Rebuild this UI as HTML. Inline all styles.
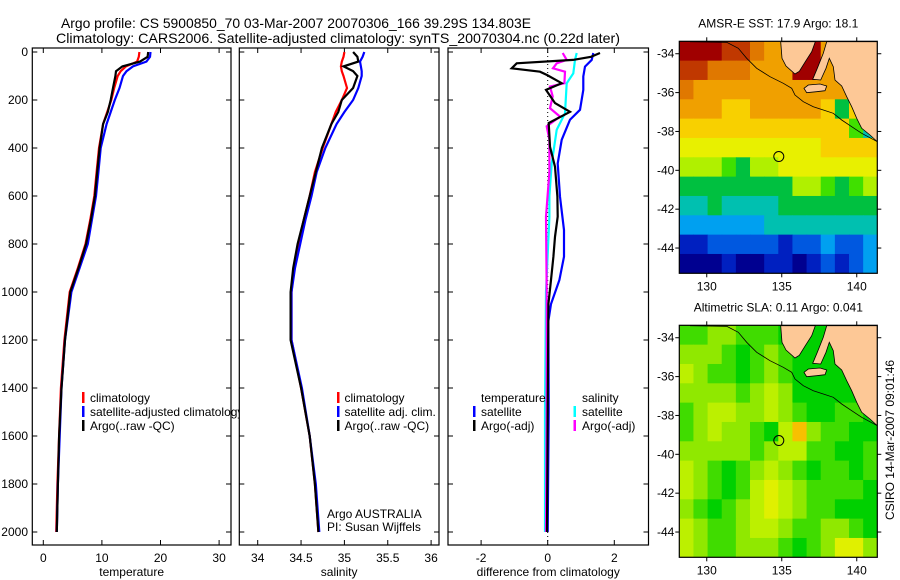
<!DOCTYPE html>
<html><head><meta charset="utf-8">
<style>
html,body{margin:0;padding:0;background:#fff;}
svg{display:block;font-family:"Liberation Sans",sans-serif;}
</style></head>
<body>
<svg id="chart" width="900" height="580" viewBox="0 0 900 580" xmlns="http://www.w3.org/2000/svg">
<text x="61" y="28" font-size="14" textLength="470" lengthAdjust="spacingAndGlyphs">Argo profile: CS 5900850_70 03-Mar-2007 20070306_166 39.29S 134.803E</text>
<text x="56" y="43" font-size="14" textLength="564" lengthAdjust="spacingAndGlyphs">Climatology: CARS2006. Satellite-adjusted climatology: synTS_20070304.nc (0.22d later)</text>
<g id="root"></g>
</svg>
<script>
// ---- profile data ----
const depths=[0,20,40,60,80,100,150,200,250,300,400,500,600,700,800,900,1000,1200,1400,1600,1800,2000];
const tempClim=[16.4,16.3,16.0,14.1,13.2,12.7,12.1,11.6,10.9,10.2,9.5,9.1,8.7,8.0,7.2,5.9,4.5,3.6,3.0,2.7,2.4,2.2];
const tempSat=[18.3,18.2,17.6,15.3,14.2,13.6,13.0,12.2,11.5,10.8,9.8,9.4,9.0,8.3,7.6,6.2,4.8,3.7,3.1,2.8,2.5,2.3];
const tempArgo=[17.9,17.8,16.5,13.5,12.4,12.3,11.9,11.5,11.0,10.2,9.6,9.2,8.8,8.1,7.3,6.0,4.6,3.7,3.1,2.7,2.5,2.3];
const salClim=[35.0,34.99,34.97,34.96,34.97,34.99,35.03,34.97,34.9,34.85,34.75,34.66,34.6,34.53,34.47,34.42,34.39,34.39,34.5,34.6,34.66,34.7];
const salSat=[35.23,35.21,35.18,35.19,35.2,35.2,35.16,35.10,35.0,34.91,34.78,34.68,34.62,34.55,34.49,34.43,34.39,34.39,34.51,34.6,34.67,34.71];
const salArgo=[35.10,35.15,35.16,34.99,35.1,35.15,35.1,34.97,34.93,34.85,34.74,34.67,34.6,34.53,34.46,34.41,34.38,34.38,34.5,34.6,34.66,34.7];
const dTArgoDepth=[4,20,33,47,68,82,96,130,158,213,249,296,395,478,603,686,770,853,950,1050,1500,2000];
const dTArgo=[1.57,1.3,0.76,-0.93,-1.08,-0.23,-0.02,0.42,-0.05,0.22,0.67,0.03,0.07,0.22,0.29,0.3,0.22,0.17,0.1,0.02,0.0,-0.02];
const dTSatDepth=[4,33,61,102,158,241,282,366,464,603,742,853,950,1050,1120,1500,2000];
const dTSat=[1.37,1.32,1.12,1.07,1.07,0.97,0.67,0.42,0.3,0.37,0.49,0.49,0.35,0.1,0.02,0.03,0.0];
const dSArgoDepth=[4,33,47,68,82,130,144,185,234,269,310,366,500,686,1000,1500,2000];
const dSArgo=[0.45,0.57,0.27,0.16,0.52,0.5,0.07,0.15,0.07,0.37,-0.03,0.05,0.05,-0.05,-0.03,-0.03,-0.05];
const dSSatDepth=[4,33,89,130,255,324,464,600,686,1000,1500,2000];
const dSSat=[0.87,0.82,0.77,0.57,0.52,0.27,0.12,0.05,0.05,-0.05,-0.08,-0.08];
const depthTicks=[0,200,400,600,800,1000,1200,1400,1600,1800,2000];
const tempTicks=[0,10,20,30];
const salTicks=[34,34.5,35,35.5,36];
const diffTicks=[-2,0,2];
// ---- map data (levels) ----
const sstGrid=[
[13,13,13,12,12,11,10,10,13,13,10,10,10,10],
[12,12,11,11,11,10,10,10,13,13,10,10,10,10],
[11,10,10,10,10,10,10,10,10,10,10,10,10,10],
[10,10,10,9,9,10,10,10,10,10,9,5,9,9],
[9,9,9,9,9,9,9,9,9,9,9,9,6,4],
[8,8,8,8,8,8,8,8,8,8,9,9,9,9],
[7,7,7,6,5,7,7,8,8,8,8,8,8,8],
[5,5,5,5,5,5,5,5,7,7,6,5,6,7],
[4,4,5,4,4,4,4,5,5,5,5,5,5,5],
[3,3,3,3,3,3,4,4,4,4,4,4,4,4],
[1,1,2,2,2,2,2,1,2,2,3,2,2,3],
[0,0,0,1,0,0,1,1,0,1,2,1,2,3]];
const slaGrid=[
[2,2,3,3,2,2,2,1,1,1,1,1,1,1],
[3,3,3,2,1,2,3,2,1,1,1,1,1,1],
[4,3,2,2,1,2,3,2,1,1,1,1,1,1],
[3,3,3,3,2,3,4,3,1,1,1,1,1,1],
[2,3,4,4,3,3,4,3,2,1,1,2,2,1],
[2,3,4,3,3,2,1,4,6,3,2,2,1,1],
[3,3,3,3,3,2,3,4,4,2,2,1,1,2],
[4,3,2,1,2,3,4,3,2,1,2,2,1,2],
[4,3,2,1,2,4,5,4,3,2,2,2,2,1],
[3,2,1,2,3,4,5,4,3,2,2,1,1,1],
[4,3,2,2,3,4,4,3,2,2,3,3,2,1],
[4,3,2,2,3,3,3,2,1,2,3,5,5,3]];
const latTicks=[-34,-36,-38,-40,-42,-44];
const lonTicks=[130,135,140];
const floatLon=134.803, floatLat=-39.29;

const sstPal=['#000090','#0020c0','#0058e0','#00a0f0','#00c0b0','#00c040','#40e000','#b0f000','#e8f000','#f8d000','#f0a000','#e07800','#c03800','#a00000'];
const slaPal=['#00b830','#00d000','#40dc00','#90e800','#bcf000','#e0f000','#f8c000'];

const NS='http://www.w3.org/2000/svg';
const root=document.getElementById('root');
function mk(tag,attrs,parent,text){const e=document.createElementNS(NS,tag);for(const k in attrs)e.setAttribute(k,attrs[k]);if(text!==undefined)e.textContent=text;(parent||root).appendChild(e);return e;}

const dy=d=>52+d*0.24;
const tx=t=>43.3+t*5.86;
const sx=s=>257.7+(s-34)*86.7;
const fx=v=>547.7+v*33.3;

function panel(name,x0,x1,xticks,xfun,xlabel,xfmt){
  const g=mk('g',{});
  
  
  const bg=mk('rect',{x:x0,y:48,width:x1-x0,height:497,fill:'#fff',stroke:'none'},g);
  
  
  const cp=mk('clipPath',{id:'cp-'+name},g);
  mk('rect',{x:x0,y:48,width:x1-x0,height:497},cp);
  xticks.forEach(t=>{
    const x=xfun(t);
    mk('line',{x1:x,x2:x,y1:545,y2:540,stroke:'#000'},g);
    mk('line',{x1:x,x2:x,y1:48,y2:53,stroke:'#000'},g);
    const lb=mk('text',{x:x,y:562,'font-size':12,'text-anchor':'middle'},g,xfmt(t));
    
    
  });
  depthTicks.forEach(d=>{
    const y=dy(d);
    mk('line',{x1:x0,x2:x0+5,y1:y,y2:y,stroke:'#000'},g);
    mk('line',{x1:x1-5,x2:x1,y1:y,y2:y,stroke:'#000'},g);
  });
  const xl=mk('text',{x:(x0+x1)/2,y:576,'font-size':12,'text-anchor':'middle'},g,xlabel);
  
  
  return {g,x0,x1,clip:'url(#cp-'+name+')'};
}
function line(p,ds,vs,xfun,color,name,w){
  const pts=ds.map((d,i)=>xfun(vs[i]).toFixed(1)+','+dy(d).toFixed(1)).join(' ');
  const e=mk('polyline',{points:pts,fill:'none',stroke:color,'stroke-width':w||2.2,'clip-path':p.clip},p.g);
  
  
}
function border(p){mk('rect',{x:p.x0,y:48,width:p.x1-p.x0,height:497,fill:'none',stroke:'#000','stroke-width':1.2},p.g);}
function legendRow(p,bx,tx_,y,color,label,name){
  const b=mk('rect',{x:bx,y:y-10,width:2.5,height:11,fill:color},p.g);
  
  
  const t=mk('text',{x:tx_,y:y,'font-size':12},p.g,label);
  
  
}

depthTicks.forEach(d=>{
  const t=mk('text',{x:28,y:dy(d)+4,'font-size':12,'text-anchor':'end'},root,String(d));
  
  
});

const p1=panel('temperature-panel',32.3,231,tempTicks,tx,'temperature',t=>String(t));
line(p1,depths,tempClim,tx,'#f00','temp-climatology-line');
line(p1,depths,tempSat,tx,'#00f','temp-satellite-line');
line(p1,depths,tempArgo,tx,'#000','temp-argo-line');
border(p1);
legendRow(p1,82,90,402,'#f00','climatology','legend-climatology');
legendRow(p1,82,90,416,'#00f','satellite-adjusted climatology','legend-satellite-adjusted');
legendRow(p1,82,90,430,'#000','Argo(..raw -QC)','legend-argo');

const p2=panel('salinity-panel',239.3,439,salTicks,sx,'salinity',t=>String(t));
line(p2,depths,salClim,sx,'#f00','sal-climatology-line');
line(p2,depths,salSat,sx,'#00f','sal-satellite-line');
line(p2,depths,salArgo,sx,'#000','sal-argo-line');
border(p2);
legendRow(p2,337,344.5,402,'#f00','climatology','legend2-climatology');
legendRow(p2,337,344.5,416,'#00f','satellite adj. clim.','legend2-satellite');
legendRow(p2,337,344.5,430,'#000','Argo(..raw -QC)','legend2-argo');
let t1=mk('text',{x:327,y:518,'font-size':12},p2.g,'Argo AUSTRALIA');

let t2=mk('text',{x:327,y:531,'font-size':12},p2.g,'PI: Susan Wijffels');


const p3=panel('difference-panel',448,648.5,diffTicks,fx,'difference from climatology',t=>String(t));
const zl=mk('line',{x1:fx(0),x2:fx(0),y1:48,y2:545,stroke:'#000','stroke-dasharray':'1,3'},p3.g);

line(p3,dTSatDepth,dTSat,fx,'#00f','diff-temp-satellite-line');
line(p3,dSSatDepth,dSSat,fx,'#0ff','diff-sal-satellite-line');
line(p3,dSArgoDepth,dSArgo,fx,'#f0f','diff-sal-argo-line');
line(p3,dTArgoDepth,dTArgo,fx,'#000','diff-temp-argo-line');
border(p3);
let lt=mk('text',{x:481,y:402,'font-size':12},p3.g,'temperature');

let ls=mk('text',{x:582,y:402,'font-size':12},p3.g,'salinity');

legendRow(p3,473,481,416,'#00f','satellite','legend3-temp-satellite');
legendRow(p3,473,481,430,'#000','Argo(-adj)','legend3-temp-argo');
legendRow(p3,573.5,582,416,'#0ff','satellite','legend3-sal-satellite');
legendRow(p3,573.5,582,430,'#f0f','Argo(-adj)','legend3-sal-argo');

// ---- maps ----
const MX0=679.3,MW=198,MH=232;
const lonX=lon=>MX0+(lon-128.17)*15;
const latY=(top,lat)=>top+(-33.36-lat)*19.43;
const landA=[[362,125],[366,175],[378,198],[405,222],[418,214],[436,185],[455,155],[466,125]];
const landB=[[500,125],[490,160],[472,205],[458,238],[482,240],[498,205],[508,175],[520,200],[525,240],[545,258],[560,290],[575,320],[590,355],[605,385],[630,405],[652,425],[652,125]];
const island=[[432,265],[445,255],[480,252],[500,258],[495,272],[470,275],[440,278]];
const shelf=[[90,125],[200,127],[235,145],[260,175],[290,205],[330,230],[370,250],[395,265],[405,285],[430,305],[460,320],[490,330],[520,340],[545,360],[575,380],[605,400],[652,425]];
function conv(arr,top){return arr.map(p=>(p[0]/3+660).toFixed(1)+','+(p[1]/3-41.3+top).toFixed(1)).join(' ');}

function drawMap(name,top,grid,pal,title){
  const g=mk('g',{});
  
  
  const cp=mk('clipPath',{id:'cp-'+name},g);
  mk('rect',{x:MX0,y:top,width:MW,height:MH},cp);
  const cells=mk('g',{'clip-path':'url(#cp-'+name+')'},g);
  const rows=grid.length, cols=grid[0].length, cw=MW/cols, ch=MH/rows;
  grid.forEach((row,j)=>row.forEach((v,i)=>{
    const r=mk('rect',{x:(MX0+i*cw).toFixed(2),y:(top+j*ch).toFixed(2),width:(cw+0.6).toFixed(2),height:(ch+0.6).toFixed(2),fill:pal[v]},cells);
    
    
  }));
  [landA,landB,island].forEach(poly=>{
    const l=mk('polygon',{points:conv(poly,top),fill:'#fdc896',stroke:'#000','stroke-width':0.8},cells);
    
    
  });
  const sh=mk('polyline',{points:conv(shelf,top),fill:'none',stroke:'#000','stroke-width':0.8},cells);
  
  
  const c=mk('circle',{cx:lonX(floatLon),cy:latY(top,floatLat),r:5,fill:'none',stroke:'#000','stroke-width':1},g);
  
  
  mk('rect',{x:MX0,y:top,width:MW,height:MH,fill:'none',stroke:'#000','stroke-width':1.2},g);
  latTicks.forEach(lat=>{
    const y=latY(top,lat);
    mk('line',{x1:MX0-4,x2:MX0,y1:y,y2:y,stroke:'#000'},g);
    mk('line',{x1:MX0+MW,x2:MX0+MW+4,y1:y,y2:y,stroke:'#000'},g);
    const t=mk('text',{x:MX0-5,y:y+4,'font-size':12,'text-anchor':'end'},g,String(lat));
    
    
  });
  lonTicks.forEach(lon=>{
    const x=lonX(lon);
    mk('line',{x1:x,x2:x,y1:top-4,y2:top,stroke:'#000'},g);
    mk('line',{x1:x,x2:x,y1:top+MH,y2:top+MH+4,stroke:'#000'},g);
    const t=mk('text',{x:x,y:top+MH+17,'font-size':12,'text-anchor':'middle'},g,String(lon));
    
    
  });
  const tt=mk('text',{x:MX0+MW/2,y:top-14,'font-size':12,'text-anchor':'middle'},g,title);
  
  
}
drawMap('sst-map',41.3,sstGrid,sstPal,'AMSR-E SST: 17.9 Argo: 18.1');
drawMap('sla-map',325.3,slaGrid,slaPal,'Altimetric SLA: 0.11 Argo: 0.041');
const cs=mk('text',{x:0,y:0,'font-size':12,'text-anchor':'middle',transform:'translate(894,440) rotate(-90)'},root,'CSIRO 14-Mar-2007 09:01:46');


</script>
</body></html>
